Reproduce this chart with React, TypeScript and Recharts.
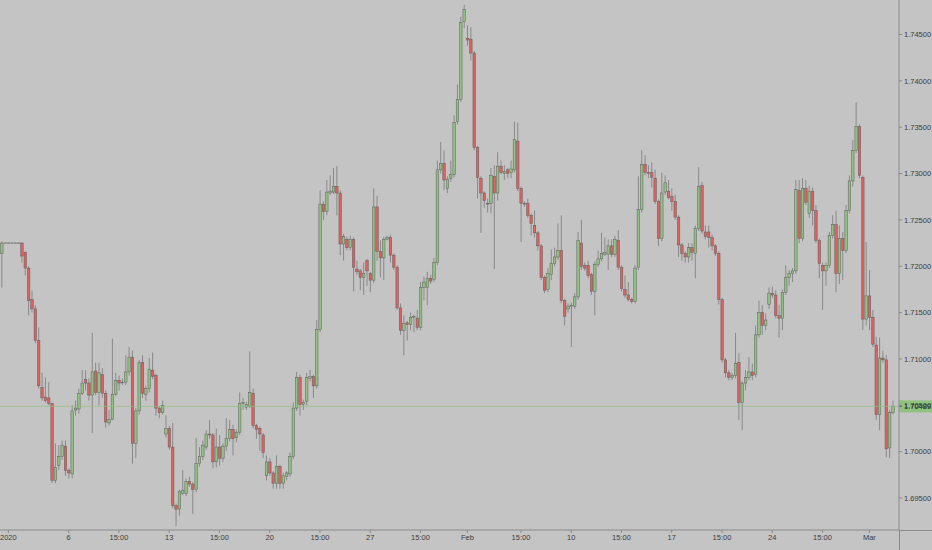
import React from 'react';
import { ComposedChart, Bar, XAxis, YAxis, ReferenceLine } from 'recharts';

// 4h candles (Jan 1 – Mar 2 2020)
const opens = [
  1.7214, 1.7225, 1.7225, 1.7225, 1.7225, 1.7225, 1.7225, 1.7215, 1.7198, 1.7164,
  1.7154, 1.712, 1.7069, 1.7059, 1.7058, 1.7052, 1.6969, 1.6985, 1.6995, 1.7006,
  1.698, 1.6976, 1.7045, 1.7046, 1.7063, 1.7078, 1.7074, 1.7061, 1.7087, 1.7064,
  1.7083, 1.7063, 1.7031, 1.7035, 1.7062, 1.7077, 1.7075, 1.7075, 1.7086, 1.7102,
  1.7009, 1.7044, 1.7096, 1.7062, 1.7068, 1.7088, 1.7082, 1.7047, 1.7042, 1.7019,
  1.7025, 1.7005, 1.6942, 1.6938, 1.6955, 1.6955, 1.6968, 1.6965, 1.6959, 1.6987,
  1.6995, 1.7005, 1.7019, 1.7018, 1.6989, 1.7005, 1.6993, 1.7006, 1.7014, 1.7024,
  1.7015, 1.7021, 1.7052, 1.7048, 1.7049, 1.7063, 1.7028, 1.7025, 1.7018, 1.6974,
  1.6989, 1.6977, 1.6966, 1.6984, 1.6966, 1.6973, 1.6976, 1.6995, 1.7047, 1.708,
  1.7051, 1.7054, 1.7079, 1.7081, 1.7071, 1.7132, 1.7267, 1.7259, 1.7279, 1.728,
  1.7286, 1.7279, 1.7224, 1.7229, 1.722, 1.7229, 1.7197, 1.7195, 1.7188, 1.7206,
  1.7192, 1.7185, 1.7264, 1.7216, 1.7209, 1.7229, 1.7231, 1.7212, 1.7199, 1.7155,
  1.7131, 1.7139, 1.7137, 1.7145, 1.7144, 1.7134, 1.7177, 1.7177, 1.7187, 1.7186,
  1.7204, 1.7304, 1.7311, 1.7284, 1.7295, 1.7299, 1.7356, 1.738, 1.7464, 1.7446,
  1.7445, 1.743, 1.7328, 1.7295, 1.7279, 1.7268, 1.7268, 1.7297, 1.7279, 1.7308,
  1.73, 1.7304, 1.7301, 1.7304, 1.7335, 1.7284, 1.7268, 1.7268, 1.7255, 1.7244,
  1.7236, 1.7222, 1.7188, 1.7175, 1.7191, 1.7203, 1.721, 1.7217, 1.7163, 1.7154,
  1.7157, 1.7157, 1.7167, 1.7225, 1.7201, 1.7201, 1.7191, 1.7173, 1.7202, 1.7208,
  1.7213, 1.7213, 1.7222, 1.7213, 1.7228, 1.7199, 1.7175, 1.7169, 1.7164, 1.7162,
  1.7199, 1.7261, 1.731, 1.7301, 1.7301, 1.7295, 1.727, 1.723, 1.728, 1.7281,
  1.7275, 1.727, 1.7253, 1.7223, 1.7214, 1.721, 1.722, 1.7214, 1.7241, 1.7287,
  1.7237, 1.7237, 1.7231, 1.7222, 1.7214, 1.7164, 1.7099, 1.7085, 1.708, 1.7082,
  1.7096, 1.7053, 1.7074, 1.708, 1.7086, 1.7083, 1.7126, 1.715, 1.7136, 1.7159,
  1.7171, 1.7169, 1.7147, 1.7144, 1.7172, 1.7188, 1.7192, 1.7195, 1.7282, 1.723,
  1.7284, 1.7257, 1.7281, 1.726, 1.7228, 1.7201, 1.7195, 1.7201, 1.7233, 1.7245,
  1.7192, 1.723, 1.7217, 1.726, 1.7292, 1.7325, 1.7351, 1.7296, 1.7143, 1.7168,
  1.7145, 1.7115, 1.704, 1.7101, 1.7099, 1.7004, 1.7042,
];

const highs = [
  1.7227, 1.7225, 1.7225, 1.7225, 1.7225, 1.7225, 1.7226, 1.7216, 1.72, 1.7174,
  1.7158, 1.7134, 1.7085, 1.708, 1.7075, 1.7053, 1.7009, 1.7007, 1.7012, 1.7012,
  1.6982, 1.705, 1.7055, 1.7068, 1.7088, 1.7088, 1.7079, 1.7128, 1.7096, 1.7096,
  1.709, 1.7066, 1.7045, 1.7122, 1.7085, 1.7082, 1.7079, 1.7104, 1.7113, 1.7109,
  1.7047, 1.7099, 1.7104, 1.7071, 1.7101, 1.7107, 1.7084, 1.7049, 1.7055, 1.7039,
  1.7028, 1.7031, 1.6944, 1.6959, 1.698, 1.6971, 1.6973, 1.6967, 1.7015, 1.7005,
  1.7012, 1.7023, 1.7034, 1.702, 1.7025, 1.7018, 1.7009, 1.7036, 1.7034, 1.7029,
  1.7024, 1.7064, 1.7058, 1.7054, 1.7108, 1.7068, 1.703, 1.7027, 1.702, 1.6996,
  1.6993, 1.6979, 1.6996, 1.6986, 1.6977, 1.6979, 1.6999, 1.7053, 1.7086, 1.7083,
  1.7056, 1.7085, 1.7088, 1.7083, 1.7142, 1.7282, 1.727, 1.7293, 1.7298, 1.7306,
  1.7308, 1.7282, 1.7235, 1.7232, 1.7233, 1.7231, 1.7206, 1.7197, 1.7204, 1.7208,
  1.7194, 1.7284, 1.7276, 1.7228, 1.7232, 1.7233, 1.7234, 1.7214, 1.7201, 1.716,
  1.7147, 1.7141, 1.715, 1.7148, 1.7153, 1.7183, 1.7189, 1.7194, 1.7191, 1.7209,
  1.7314, 1.7334, 1.7325, 1.7297, 1.7314, 1.7363, 1.7396, 1.7469, 1.7482, 1.746,
  1.7458, 1.7432, 1.733, 1.7297, 1.7281, 1.7273, 1.7306, 1.7309, 1.7323, 1.7314,
  1.7309, 1.7306, 1.7314, 1.7356, 1.7355, 1.7286, 1.727, 1.7273, 1.7257, 1.726,
  1.7238, 1.7224, 1.719, 1.7198, 1.7218, 1.722, 1.7246, 1.7255, 1.7165, 1.716,
  1.7161, 1.7171, 1.7237, 1.725, 1.7204, 1.7206, 1.7193, 1.7205, 1.7217, 1.7236,
  1.7231, 1.7229, 1.7229, 1.7233, 1.7239, 1.7201, 1.719, 1.7183, 1.7166, 1.7201,
  1.7297, 1.7325, 1.732, 1.7309, 1.7312, 1.7304, 1.7272, 1.7301, 1.7298, 1.7293,
  1.7284, 1.7277, 1.7255, 1.7225, 1.7216, 1.7225, 1.7225, 1.7244, 1.7307, 1.7291,
  1.7244, 1.7244, 1.7234, 1.7224, 1.7216, 1.7166, 1.7101, 1.7088, 1.7085, 1.7128,
  1.7106, 1.7076, 1.7088, 1.7102, 1.7095, 1.7136, 1.7163, 1.7158, 1.7149, 1.7177,
  1.7178, 1.7174, 1.7158, 1.7175, 1.7201, 1.7196, 1.7198, 1.7293, 1.7293, 1.7295,
  1.7293, 1.7287, 1.7285, 1.7266, 1.723, 1.7204, 1.7204, 1.7237, 1.7255, 1.726,
  1.7244, 1.7237, 1.7266, 1.7298, 1.7336, 1.7377, 1.7353, 1.7298, 1.7226, 1.7196,
  1.7153, 1.7124, 1.7123, 1.7109, 1.7104, 1.7045, 1.7055,
];

const lows = [
  1.7177, 1.7225, 1.7225, 1.7225, 1.7225, 1.7225, 1.7204, 1.719, 1.7147, 1.715,
  1.7117, 1.7068, 1.7055, 1.7053, 1.705, 1.6966, 1.6966, 1.698, 1.6991, 1.6974,
  1.6971, 1.6971, 1.7039, 1.7041, 1.7061, 1.7066, 1.7055, 1.702, 1.7061, 1.705,
  1.7058, 1.7026, 1.7028, 1.7034, 1.706, 1.7066, 1.7072, 1.7072, 1.7082, 1.6987,
  1.6993, 1.704, 1.7058, 1.7055, 1.7064, 1.7078, 1.7039, 1.7036, 1.704, 1.7015,
  1.7002, 1.6939, 1.692, 1.6931, 1.6953, 1.6952, 1.6962, 1.6933, 1.6956, 1.6984,
  1.6991, 1.7002, 1.7014, 1.6982, 1.6983, 1.6985, 1.6989, 1.7001, 1.7011, 1.6996,
  1.701, 1.7018, 1.7045, 1.7045, 1.7047, 1.7025, 1.7014, 1.7001, 1.6993, 1.6969,
  1.6974, 1.696, 1.696, 1.696, 1.696, 1.6969, 1.6973, 1.6992, 1.7044, 1.7039,
  1.7045, 1.705, 1.7076, 1.7058, 1.7068, 1.7129, 1.725, 1.7255, 1.7277, 1.7278,
  1.7255, 1.7212, 1.7206, 1.7217, 1.7217, 1.7173, 1.7191, 1.7174, 1.7169, 1.7179,
  1.7172, 1.7182, 1.7206, 1.7188, 1.7185, 1.7228, 1.7204, 1.7196, 1.7153, 1.7126,
  1.7104, 1.712, 1.7131, 1.7129, 1.7131, 1.7131, 1.7163, 1.7158, 1.7181, 1.7183,
  1.7201, 1.73, 1.7282, 1.7279, 1.7291, 1.7296, 1.7353, 1.7377, 1.7457, 1.7438,
  1.7422, 1.7325, 1.7273, 1.7236, 1.7263, 1.7258, 1.7257, 1.7197, 1.7271, 1.7299,
  1.7293, 1.7295, 1.7295, 1.7301, 1.7281, 1.7226, 1.7264, 1.7252, 1.7233, 1.7231,
  1.7217, 1.7185, 1.7171, 1.7172, 1.7185, 1.72, 1.7207, 1.716, 1.7136, 1.715,
  1.7113, 1.7154, 1.7164, 1.7196, 1.7195, 1.7187, 1.7169, 1.7147, 1.7199, 1.7205,
  1.7211, 1.7196, 1.721, 1.721, 1.7196, 1.7173, 1.7166, 1.7162, 1.716, 1.716,
  1.7196, 1.7258, 1.7298, 1.7295, 1.7285, 1.7267, 1.7222, 1.7227, 1.7277, 1.7272,
  1.726, 1.725, 1.721, 1.7206, 1.7204, 1.7204, 1.7206, 1.7187, 1.7238, 1.7235,
  1.7229, 1.722, 1.7217, 1.7211, 1.7159, 1.7096, 1.708, 1.7077, 1.7077, 1.7079,
  1.7034, 1.7023, 1.7066, 1.7077, 1.7077, 1.708, 1.7123, 1.7126, 1.7131, 1.7154,
  1.7166, 1.7144, 1.7123, 1.7131, 1.7169, 1.7179, 1.7183, 1.7192, 1.7225, 1.7227,
  1.7266, 1.7252, 1.7244, 1.7225, 1.7187, 1.7153, 1.7179, 1.7198, 1.723, 1.7172,
  1.7181, 1.7185, 1.7214, 1.7257, 1.7286, 1.7322, 1.7295, 1.7131, 1.7136, 1.7131,
  1.7113, 1.7034, 1.7023, 1.7096, 1.6994, 1.6993, 1.704,
];

const closes = [
  1.7225, 1.7225, 1.7225, 1.7225, 1.7225, 1.7225, 1.7211, 1.7198, 1.7163, 1.7154,
  1.712, 1.7071, 1.7058, 1.7055, 1.7052, 1.6969, 1.6983, 1.6995, 1.7007, 1.698,
  1.6977, 1.7044, 1.7047, 1.7063, 1.7074, 1.7074, 1.7061, 1.7086, 1.7064, 1.7085,
  1.7063, 1.7032, 1.7035, 1.7062, 1.7077, 1.7074, 1.7075, 1.7086, 1.7102, 1.7009,
  1.7044, 1.7096, 1.7063, 1.7068, 1.7089, 1.7081, 1.7047, 1.7042, 1.705, 1.7025,
  1.7005, 1.6942, 1.6938, 1.6957, 1.6958, 1.6968, 1.6965, 1.6959, 1.6987, 1.6995,
  1.7007, 1.7019, 1.7018, 1.6989, 1.7005, 1.6993, 1.7006, 1.7014, 1.7024, 1.7014,
  1.7021, 1.7052, 1.7053, 1.7051, 1.7064, 1.7028, 1.7024, 1.7019, 1.6999, 1.6989,
  1.6977, 1.6966, 1.6984, 1.6966, 1.6974, 1.6977, 1.6995, 1.7047, 1.708, 1.7051,
  1.7053, 1.708, 1.7081, 1.7071, 1.7132, 1.7267, 1.7259, 1.728, 1.7281, 1.7286,
  1.7279, 1.7224, 1.7232, 1.722, 1.7229, 1.7199, 1.7194, 1.7188, 1.7192, 1.7195,
  1.7185, 1.7264, 1.7216, 1.7209, 1.7229, 1.7231, 1.7212, 1.7199, 1.7155, 1.7131,
  1.7138, 1.7137, 1.7145, 1.7146, 1.7134, 1.7177, 1.7183, 1.7187, 1.7184, 1.7204,
  1.7304, 1.7311, 1.7293, 1.7294, 1.7299, 1.7355, 1.738, 1.7463, 1.7477, 1.7444,
  1.743, 1.7328, 1.7296, 1.7279, 1.7271, 1.7267, 1.7298, 1.7279, 1.7308, 1.7301,
  1.7302, 1.73, 1.7305, 1.7337, 1.7284, 1.7268, 1.7267, 1.7255, 1.7246, 1.7236,
  1.7222, 1.7188, 1.7174, 1.7192, 1.7203, 1.721, 1.7217, 1.7163, 1.7146, 1.7157,
  1.7158, 1.7167, 1.7228, 1.72, 1.7198, 1.719, 1.7173, 1.7202, 1.7208, 1.7214,
  1.7215, 1.7222, 1.7213, 1.7229, 1.7199, 1.7176, 1.7169, 1.7164, 1.7162, 1.7198,
  1.7261, 1.731, 1.7301, 1.73, 1.7296, 1.727, 1.723, 1.7279, 1.729, 1.7274,
  1.727, 1.7253, 1.7223, 1.7214, 1.721, 1.722, 1.7215, 1.7241, 1.7286, 1.7238,
  1.7232, 1.7231, 1.7222, 1.7214, 1.7164, 1.7099, 1.7085, 1.708, 1.7082, 1.7095,
  1.7053, 1.7074, 1.708, 1.7086, 1.7082, 1.7126, 1.715, 1.7136, 1.7142, 1.7171,
  1.7169, 1.7147, 1.7144, 1.7172, 1.7188, 1.7192, 1.7195, 1.7283, 1.723, 1.7284,
  1.7269, 1.7281, 1.726, 1.7228, 1.7203, 1.7195, 1.7201, 1.7233, 1.7245, 1.7192,
  1.723, 1.7217, 1.726, 1.7292, 1.7325, 1.7351, 1.7298, 1.7143, 1.7168, 1.7145,
  1.7116, 1.704, 1.7101, 1.7099, 1.7003, 1.7042, 1.70489,
];

// bar index where each time label sits
const timeTickIdx = [2, 20, 35, 50, 65, 80, 95, 110, 125, 139, 155, 170, 185, 200, 215, 230, 245, 259];
const timeTickLabels = [
  '2020', '6', '15:00', '13', '15:00', '20', '15:00', '27', '15:00',
  'Feb', '15:00', '10', '15:00', '17', '15:00', '24', '15:00', 'Mar',
];
const priceTicks = [1.695, 1.7, 1.705, 1.71, 1.715, 1.72, 1.725, 1.73, 1.735, 1.74, 1.745];
const lastPrice = closes[closes.length - 1];

const BG = '#c4c4c4';
const UP = '#8fc27f';
const DOWN = '#e05f5f';
const EDGE = '#5e5e5e';
const WICK = '#7a7a7a';
const AXIS = '#8a8a8a';
const TEXT = '#3c3c3c';
const FONT = '"Liberation Sans", Arial, sans-serif';

const data = opens.map((open, i) => ({
  i,
  open,
  high: highs[i],
  low: lows[i],
  close: closes[i],
  range: [lows[i], highs[i]],
}));

const labelFor = new Map(timeTickIdx.map((t, k) => [t, timeTickLabels[k]]));

function Candle(props: any) {
  const { x, y, width, height, payload } = props;
  if (x == null || y == null || !payload) return null;
  const cx = x + width / 2;
  const top = Math.min(y, y + height);
  const h = Math.abs(height);
  const { open, close, high, low } = payload;
  const span = high - low;
  const bw = 2.5;
  if (!(span > 0)) {
    return <line x1={cx - 1.5} x2={cx + 1.5} y1={top} y2={top} stroke={EDGE} strokeWidth={0.9} />;
  }
  const toY = (v: number) => top + ((high - v) / span) * h;
  const bTop = toY(Math.max(open, close));
  const bBot = toY(Math.min(open, close));
  const up = close >= open;
  return (
    <g>
      <line x1={cx} x2={cx} y1={top} y2={top + h} stroke={WICK} strokeWidth={0.8} />
      <rect
        x={cx - bw / 2}
        y={bTop}
        width={bw}
        height={Math.max(bBot - bTop, 0.8)}
        fill={up ? UP : DOWN}
        stroke={EDGE}
        strokeWidth={0.5}
      />
    </g>
  );
}

// green last-price box on the price scale
function renderPriceTag(props: any) {
  const vb = props.viewBox;
  if (!vb) return null;
  const x = vb.x + vb.width;
  const y = vb.y;
  return (
    <g key="price-tag">
      <rect x={x + 0.5} y={y - 6} width={33} height={12} fill={UP} />
      <line x1={x} x2={x + 3} y1={y} y2={y} stroke={TEXT} strokeWidth={0.7} />
      <text
        x={x + 5}
        y={y + 2.6}
        fontSize={7.5}
        fill="#262626"
        fontFamily={FONT}
        textAnchor="start"
      >
        {lastPrice.toFixed(5)}
      </text>
    </g>
  );
}

export default function App() {
  return (
    <div style={{ position: 'fixed', left: 0, top: 0, width: 932, height: 550, background: BG, overflow: 'hidden' }}>
      <ComposedChart width={932} height={550} data={data} margin={{ top: 0, right: 0, left: 0, bottom: 0 }}>
        <XAxis
          dataKey="i"
          type="category"
          ticks={timeTickIdx}
          interval={0}
          height={20}
          padding={{ left: 0, right: 4.5 }}
          tickFormatter={(v) => labelFor.get(v) ?? ''}
          tick={{ fontSize: 7.5, fill: TEXT, fontFamily: FONT }}
          tickSize={3}
          tickMargin={2}
          tickLine={{ stroke: AXIS }}
          axisLine={{ stroke: AXIS }}
        />
        <YAxis
          orientation="right"
          width={33}
          type="number"
          domain={[1.69155, 1.74872]}
          allowDataOverflow
          ticks={priceTicks}
          tickFormatter={(v: number) => v.toFixed(5)}
          tick={{ fontSize: 7.5, fill: TEXT, fontFamily: FONT, textAnchor: 'start' }}
          tickSize={3}
          tickMargin={2}
          tickLine={{ stroke: AXIS }}
          axisLine={{ stroke: AXIS }}
        />
        <ReferenceLine y={lastPrice} stroke={UP} strokeWidth={0.7} label={renderPriceTag} />
        <Bar dataKey="range" shape={<Candle />} isAnimationActive={false} />
      </ComposedChart>
      <div style={{ position: 'absolute', left: 899, top: 530, width: 1, height: 20, background: AXIS }} />
      <div style={{ position: 'absolute', left: 899, top: 530, width: 33, height: 1, background: AXIS }} />
    </div>
  );
}
